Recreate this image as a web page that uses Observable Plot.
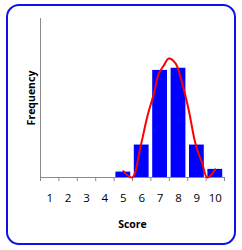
<!DOCTYPE html>
<html>
<head>
<meta charset="utf-8">
<script src="https://cdn.jsdelivr.net/npm/d3@7"></script>
<script src="https://cdn.jsdelivr.net/npm/@observablehq/plot@0.6"></script>
<style>
  html, body { margin: 0; padding: 0; background: #fff; }
  #wrap { position: relative; width: 242px; height: 250px; overflow: hidden; }
  #frame { position: absolute; left: 6px; top: 4px; width: 230px; height: 241px; box-sizing: border-box;
           border: 2.6px solid #1010E8; border-radius: 13px; pointer-events: none; }
</style>
</head>
<body>
<div id="wrap"><div id="frame"></div></div>
<script>
const scores = [1, 2, 3, 4, 5, 6, 7, 8, 9, 10];
const freqs = [0, 0, 0, 0, 1, 6, 19.8, 20.2, 6, 1.5];
const curveX = [5.0, 5.48, 5.93, 6.3, 6.66, 6.93, 7.2, 7.47, 7.84, 8.2, 8.56, 8.92, 9.29, 9.56, 10.0];
const curveY = [1.17, 0, 5.6, 11.2, 15.5, 19.2, 20.7, 22.0, 21.1, 17.4, 12.4, 6.3, 2.6, 0, 1.5];
const xLabel = "Score";
const yLabel = "Frequency";

const bars = scores.map((s, i) => ({score: s, freq: freqs[i]})).filter(d => d.freq > 0);
const curve = curveX.map((x, i) => ({x, y: curveY[i]}));
const boundaries = d3.range(0.5, 11, 1);

const chart = Plot.plot({
  width: 242,
  height: 250,
  marginLeft: 40,
  marginRight: 18,
  marginTop: 18,
  marginBottom: 73,
  style: {fontFamily: "'Open Sans', sans-serif", fontSize: "11px", background: "transparent", color: "#000"},
  x: {domain: [0.5, 10.5], axis: null},
  y: {domain: [0, 29.4], axis: null},
  marks: [
    Plot.rectY(bars, {x1: d => d.score - 0.5, x2: d => d.score + 0.5, y: "freq", fill: "#0000FF", insetLeft: 1.8, insetRight: 1.8}),
    Plot.ruleX([0.5], {stroke: "#8a8a8a", strokeWidth: 1}),
    Plot.ruleY([0], {stroke: "#8a8a8a", strokeWidth: 1.2}),
    Plot.axisX({ticks: boundaries, tickSize: 4, tickFormat: () => "", stroke: "#8a8a8a", label: null}),
    Plot.axisX({ticks: scores, tickSize: 0, tickPadding: 16, tickFormat: d => String(d), label: null, fontSize: 11.5}),
    Plot.line(curve, {x: "x", y: "y", stroke: "#FF0000", strokeWidth: 2, curve: "catmull-rom"}),
    Plot.text([xLabel], {frameAnchor: "bottom", dy: 47, textAnchor: "middle", lineAnchor: "middle", fontWeight: "bold", fontSize: 10.5}),
    Plot.text([yLabel], {frameAnchor: "left", dx: -9, rotate: -90, textAnchor: "middle", lineAnchor: "middle", fontWeight: "bold", fontSize: 10.5})
  ]
});
chart.style.position = "absolute";
chart.style.left = "0px";
chart.style.top = "0px";
document.getElementById("wrap").insertBefore(chart, document.getElementById("frame"));
</script>
</body>
</html>
